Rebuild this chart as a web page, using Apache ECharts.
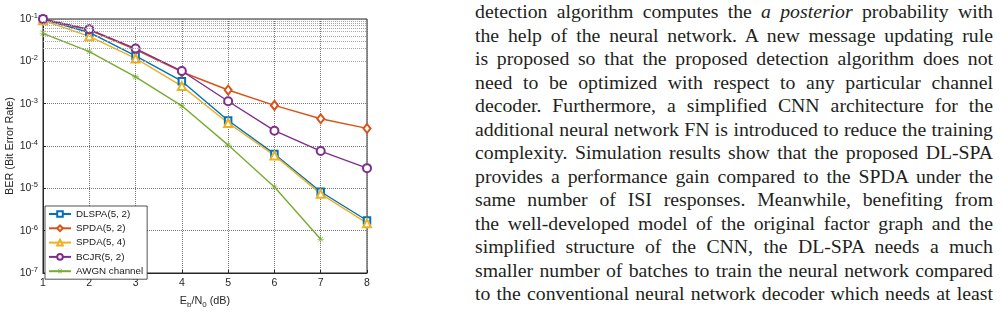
<!DOCTYPE html>
<html>
<head>
<meta charset="utf-8">
<script src="https://cdn.jsdelivr.net/npm/echarts@6/dist/echarts.min.js"></script>
<style>
  html, body { margin: 0; padding: 0; background: #fff; }
  #page { position: relative; width: 1003px; height: 312px; overflow: hidden; }
  #chart-area { position: absolute; left: 0; top: 0; width: 400px; height: 312px; }
  #text { position: absolute; left: 475px; top: 0px; width: 518px;
    font-family: "Liberation Serif", "DejaVu Serif", serif; font-size: 19.5px;
    line-height: 23.5px; color: #231f20; }
  #text div { text-align: justify; text-align-last: justify; white-space: nowrap; }
</style>
</head>
<body>
<div id="page">
  <div id="chart-area"></div>
  <div id="text">
    <div>detection algorithm computes the <i>a posterior</i> probability with</div>
    <div>the help of the neural network. A new message updating rule</div>
    <div>is proposed so that the proposed detection algorithm does not</div>
    <div>need to be optimized with respect to any particular channel</div>
    <div>decoder. Furthermore, a simplified CNN architecture for the</div>
    <div>additional neural network FN is introduced to reduce the training</div>
    <div>complexity. Simulation results show that the proposed DL-SPA</div>
    <div>provides a performance gain compared to the SPDA under the</div>
    <div>same number of ISI responses. Meanwhile, benefiting from</div>
    <div>the well-developed model of the original factor graph and the</div>
    <div>simplified structure of the CNN, the DL-SPA needs a much</div>
    <div>smaller number of batches to train the neural network compared</div>
    <div>to the conventional neural network decoder which needs at least</div>
  </div>
</div>
<script>
// Eb/N0 in dB
const snr = [1, 2, 3, 4, 5, 6, 7, 8];
// BER values
const dlspa52 = [0.098, 0.048, 0.0135, 0.0034, 0.0004, 0.000065, 0.0000083, 0.00000174];
const spda52 = [0.097, 0.055, 0.019, 0.0056, 0.0021, 0.00091, 0.00044, 0.00026];
const spda54 = [0.093, 0.039, 0.0117, 0.0026, 0.00035, 0.00006, 0.0000074, 0.0000015];
const bcjr52 = [0.1, 0.057, 0.02, 0.0059, 0.00114, 0.00023, 0.000076, 0.00003];
const awgn = [0.046, 0.017, 0.0043, 0.00089, 0.000105, 0.0000107, 0.00000063];

const decades = [1e-7, 1e-6, 1e-5, 1e-4, 1e-3, 1e-2];
const minorMultipliers = [2, 3, 4, 5, 6, 7, 8, 9];

const font = '"Liberation Sans", Arial, sans-serif';
// asterisk marker (filled thin arms)
const asterisk = 'path://M0,9.2L20,9.2L20,10.8L0,10.8Z M9.2,0L10.8,0L10.8,20L9.2,20Z '
	+ 'M3.6,2.4L17.6,16.4L16.4,17.6L2.4,3.6Z M2.4,16.4L16.4,2.4L17.6,3.6L3.6,17.6Z';

// fit the paragraph font so the widest line just fills the column
(function fitText() {
	const box = document.getElementById('text');
	const ctx = document.createElement('canvas').getContext('2d');
	ctx.font = '20px "Liberation Serif"';
	let maxW = 0;
	box.querySelectorAll('div').forEach((d) => {
		maxW = Math.max(maxW, ctx.measureText(d.textContent).width);
	});
	if (maxW > 0) {
		const size = Math.min(20 * 514 / maxW, 21);
		box.style.fontSize = size.toFixed(2) + 'px';
	}
})();

const pairs = (ys) => ys.map((v, i) => [snr[i], v]);

let minorLines = [];
decades.forEach((d) => {
	minorMultipliers.forEach((m) => {
		minorLines.push({ yAxis: d * m });
	});
});

const lineSeries = (name, data, color, symbol, size, border) => ({
	name: name,
	type: 'line',
	data: pairs(data),
	symbol: symbol,
	symbolSize: size,
	showSymbol: true,
	lineStyle: { color: color, width: 1.4 },
	itemStyle: { color: color, borderColor: color, borderWidth: border },
	z: 3
});

const myChart = echarts.init(document.getElementById('chart-area'), null, { renderer: 'canvas' });
const option = {
	animation: false,
	grid: {
		left: 43, top: 19, width: 324, height: 254,
		outerBoundsMode: 'none',
		containLabel: false,
		show: true, borderColor: '#262626', borderWidth: 1
	},
	legend: {
		data: ['DLSPA(5, 2)', 'SPDA(5, 2)', 'SPDA(5, 4)', 'BCJR(5, 2)', 'AWGN channel'],
		orient: 'vertical',
		left: 45, top: 206,
		itemWidth: 22, itemHeight: 7, itemGap: 4.3,
		padding: [3, 4, 3, 3],
		backgroundColor: '#fff',
		borderColor: '#262626', borderWidth: 0.8, borderRadius: 0,
		textStyle: { fontFamily: font, fontSize: 9.8, color: '#1a1a1a' }
	},
	xAxis: {
		type: 'value',
		min: 1, max: 8, interval: 1,
		name: 'E{sub|b}/N{sub|0} (dB)',
		nameLocation: 'middle', nameGap: 21,
		nameMoveOverlap: false,
		nameTextStyle: {
			fontFamily: font, fontSize: 10.8, color: '#262626',
			rich: { sub: { fontFamily: font, fontSize: 8, color: '#262626', padding: [7, 0, 0, 0] } }
		},
		axisLine: { show: true, lineStyle: { color: '#262626' } },
		axisTick: { show: true, inside: true, length: 3, lineStyle: { color: '#262626' } },
		axisLabel: { fontFamily: font, fontSize: 10.5, color: '#262626', margin: 5 },
		splitLine: { show: true, lineStyle: { type: 'dotted', color: '#777', width: 1 } }
	},
	yAxis: {
		type: 'log',
		logBase: 10,
		min: 1e-7, max: 1e-1,
		name: 'BER (Bit Error Rate)',
		nameLocation: 'middle', nameGap: 27,
		nameMoveOverlap: false,
		nameTextStyle: { fontFamily: font, fontSize: 10.8, color: '#262626' },
		axisLine: { show: true, lineStyle: { color: '#262626' } },
		axisTick: { show: true, inside: true, length: 3, lineStyle: { color: '#262626' } },
		axisLabel: {
			fontFamily: font, fontSize: 10.5, color: '#262626', margin: 5,
			formatter: (v) => '10{sup|' + Math.round(Math.log10(v)) + '}',
			rich: { sup: { fontFamily: font, fontSize: 7.5, color: '#262626', padding: [0, 0, 6, 0] } }
		},
		splitLine: { show: true, lineStyle: { type: 'dotted', color: '#777', width: 1 } }
	},
	series: [
		{
			name: 'grid',
			type: 'line',
			data: [],
			silent: true,
			z: 1,
			markLine: {
				silent: true,
				symbol: ['none', 'none'],
				label: { show: false },
				lineStyle: { type: 'dotted', color: '#a6a6a6', width: 1 },
				animation: false,
				data: minorLines
			}
		},
		lineSeries('DLSPA(5, 2)', dlspa52, '#0072BD', 'emptyRect', 6.5, 1.3),
		lineSeries('SPDA(5, 2)', spda52, '#D95319', 'emptyDiamond', [7, 9], 1.3),
		lineSeries('SPDA(5, 4)', spda54, '#EDB120', 'emptyTriangle', 8, 1.3),
		lineSeries('BCJR(5, 2)', bcjr52, '#7E2F8E', 'emptyCircle', 8, 1.3),
		lineSeries('AWGN channel', awgn, '#77AC30', asterisk, 7, 0)
	]
};
option && myChart.setOption(option);
</script>
</body>
</html>
